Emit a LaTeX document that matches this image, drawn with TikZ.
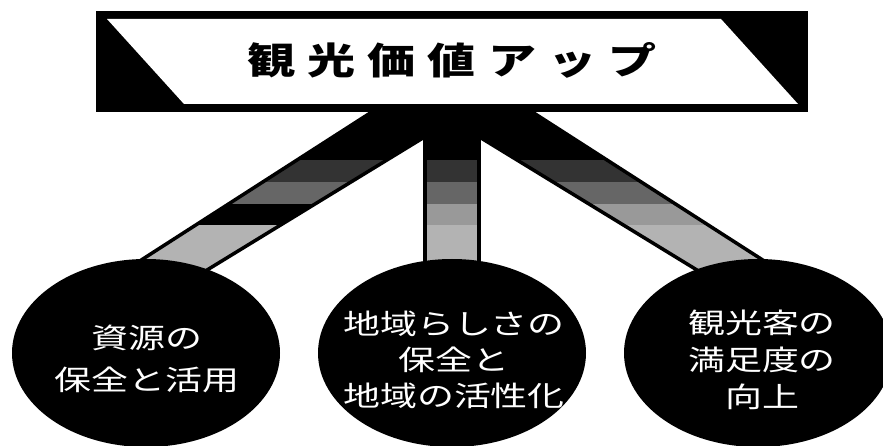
\documentclass[tikz,border=0pt]{standalone}
\usepackage{fontspec}
\usetikzlibrary{shapes.geometric}
\newfontfamily\jpfont[FakeStretch=1.32]{Noto Sans CJK JP}
\newfontfamily\jptitle[FakeStretch=1.3]{Noto Sans CJK JP}
\definecolor{gA}{HTML}{333333}
\definecolor{gB}{HTML}{666666}
\definecolor{gC}{HTML}{999999}
\definecolor{gD}{HTML}{B3B3B3}
\tikzset{
  barline/.style={draw=black,line width=3.5pt,line join=miter},
  bubble/.style={ellipse,fill=black,draw=none,minimum width=268pt,minimum height=188pt,inner sep=0pt},
  bubbletext/.style={text=white,align=center,inner sep=0pt},
  titletext/.style={inner sep=0pt,font=\jptitle\bfseries\fontsize{37}{40}\selectfont}
}
\newcommand{\stripes}[4]{%
  \fill[black] (0,100) rectangle (883,160);
  \fill[#1] (0,160) rectangle (883,182);
  \fill[#2] (0,182) rectangle (883,204);
  \fill[#3] (0,204) rectangle (883,225);
  \fill[#4] (0,225) rectangle (883,330);
}
\begin{document}
\begin{tikzpicture}[x=1pt,y=-1pt]
\useasboundingbox (0,0) rectangle (883,446);
\fill[white] (0,0) rectangle (883,446);
% bar geometry
\coordinate (L1) at (378,108);
\coordinate (L2) at (79,300);
\coordinate (L3) at (158,300);
\coordinate (L4) at (472,108);
\coordinate (C1) at (425,108);
\coordinate (C2) at (479,108);
\coordinate (C3) at (479,300);
\coordinate (C4) at (425,300);
\coordinate (R1) at (526,108);
\coordinate (R2) at (825,300);
\coordinate (R3) at (746,300);
\coordinate (R4) at (432,108);
% left bar
\begin{scope}
  \clip (L1) -- (L2) -- (L3) -- (L4) -- cycle;
  \stripes{gA}{gB}{black}{gD}
\end{scope}
\draw[barline] (L1) -- (L2) -- (L3) -- (L4) -- cycle;
% right bar
\begin{scope}
  \clip (R1) -- (R2) -- (R3) -- (R4) -- cycle;
  \stripes{gA}{gB}{gC}{gD}
\end{scope}
\draw[barline] (R1) -- (R2) -- (R3) -- (R4) -- cycle;
% center bar
\begin{scope}
  \clip (C1) -- (C2) -- (C3) -- (C4) -- cycle;
  \stripes{gA}{gB}{gC}{gD}
\end{scope}
\draw[barline] (C1) -- (C2) -- (C3) -- (C4) -- cycle;
% banner
\fill[black] (96,11) rectangle (808,112);
\fill[white] (107,19) -- (721,19) -- (798,104) -- (184,104) -- cycle;
\node[titletext] (title) at (452,60) {観\hskip12pt 光\hskip12pt 価\hskip12pt 値\hskip12pt ア\hskip12pt ッ\hskip12pt プ};
% bubbles
\node[bubble] (e1) at (146,353) {};
\node[bubble] (e2) at (452,353) {};
\node[bubble] (e3) at (758,353) {};
\node[bubbletext,font=\jpfont\fontsize{28}{42}\selectfont] (t1) at (147,359) {資源の\\保全と活用};
\node[bubbletext,font=\jpfont\fontsize{28}{36}\selectfont] (t2) at (454,360) {地域らしさの\\保全と\\地域の活性化};
\node[bubbletext,font=\jpfont\fontsize{28}{37}\selectfont] (t3) at (762,360) {観光客の\\満足度の\\向上};
\end{tikzpicture}
\end{document}
